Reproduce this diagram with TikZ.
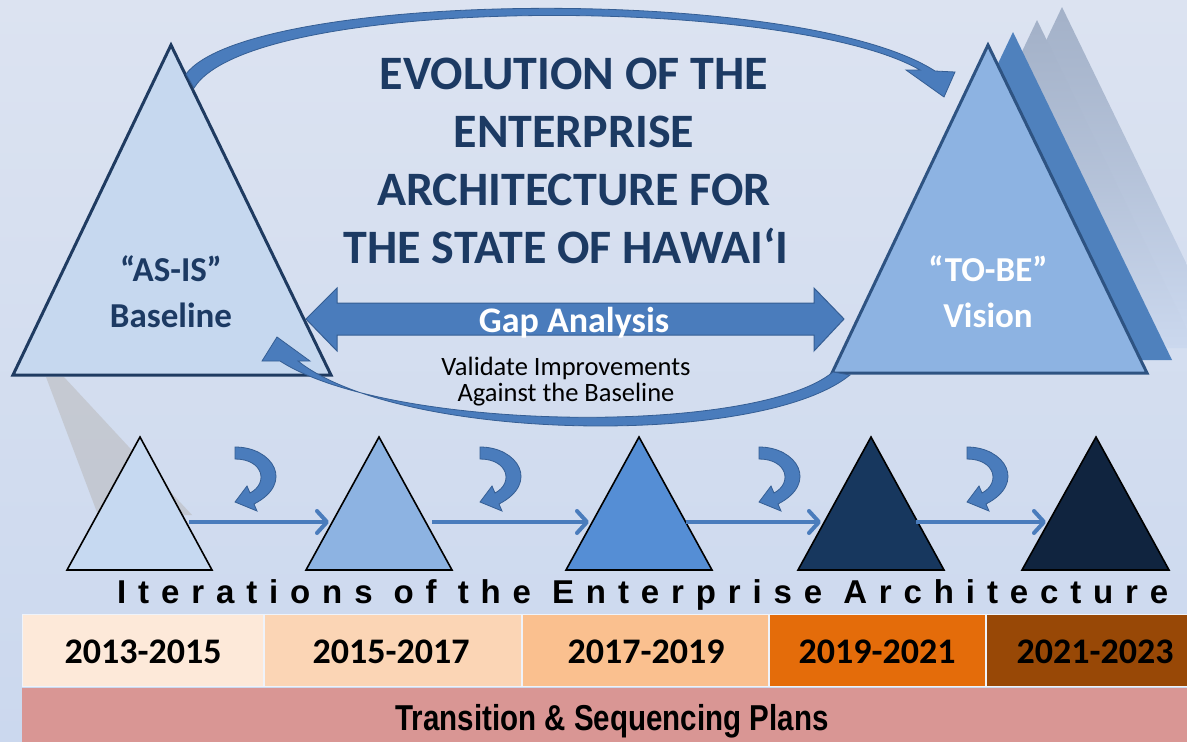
\documentclass[tikz,border=0pt]{standalone}
\usepackage{fontspec}
\setmainfont{Carlito}
\newfontfamily\spacedfont[LetterSpace=36]{Liberation Sans}
\newfontfamily\narrowfont[FakeStretch=0.82]{Liberation Sans}
\usetikzlibrary{arrows.meta}
\definecolor{bgtop}{HTML}{DCE3F1}
\definecolor{bgbot}{HTML}{CBD8EE}
\definecolor{navy}{HTML}{1C3A63}
\definecolor{asisfill}{HTML}{C6D8EF}
\definecolor{asisline}{HTML}{1F3B61}
\definecolor{tobefill}{HTML}{8DB3E2}
\definecolor{tobeline}{HTML}{2E5382}
\definecolor{backblue}{HTML}{4F81BD}
\definecolor{backgray}{HTML}{A3B1C8}
\definecolor{arcblue}{HTML}{4A7CBC}
\definecolor{arcdark}{HTML}{355E94}
\definecolor{tri1}{HTML}{C6D9F1}
\definecolor{tri2}{HTML}{8DB3E2}
\definecolor{tri3}{HTML}{558ED5}
\definecolor{tri4}{HTML}{17375E}
\definecolor{tri5}{HTML}{10243F}
\definecolor{yr1}{HTML}{FDE9D9}
\definecolor{yr2}{HTML}{FBD5B5}
\definecolor{yr3}{HTML}{FAC08F}
\definecolor{yr4}{HTML}{E46C0A}
\definecolor{yr5}{HTML}{984806}
\definecolor{planbar}{HTML}{D99694}
\definecolor{shadowc}{HTML}{B0ACA8}
\tikzset{
  txt/.style={inner sep=0pt, anchor=base},
  titletext/.style={txt, text=navy, font=\fontsize{48}{58}\selectfont\bfseries},
  bigtri/.style={line width=3pt, line join=miter},
  smalltri/.style={draw=black, line width=1.6pt, line join=miter},
  arcarrow/.style={fill=arcblue, draw=arcdark, line width=0.8pt},
  harrow/.style={draw=arcblue, line width=4pt, -{Straight Barb[length=10pt,width=22pt,round]}},
  yeartext/.style={txt, text=black, font=\fontsize{36}{40}\selectfont\bfseries},
  uturn/.pic={
    \filldraw[arcarrow] (0,0) .. controls (38,0) and (60,36) .. (19,57)
      -- (22,64) -- (0,55) -- (12,39) -- (15,46)
      .. controls (34,36) and (28,12) .. (0,12) -- cycle;
  }
}
\begin{document}
\begin{tikzpicture}[x=1pt,y=-1pt]
\useasboundingbox (0,0) rectangle (1187,742);
\shade[top color=bgtop, bottom color=bgbot] (0,0) rectangle (1187,742);

% shadow wedge under the AS-IS triangle
\fill[shadowc, opacity=0.4] (46,377) -- (64,377) -- (192,515) -- (98,515) -- cycle;

% stacked triangles behind TO-BE
\shade[top color=backgray, bottom color=bgbot, middle color=backgray!55!bgbot] (1062,7) -- (906,335) -- (1221,335) -- cycle;
\shade[top color=backgray, bottom color=bgbot, middle color=backgray!55!bgbot] (1037,20) -- (881,348) -- (1196,348) -- cycle;
\fill[backblue] (1013,32) -- (857,360) -- (1172,360) -- cycle;

% TO-BE triangle
\filldraw[bigtri, fill=tobefill, draw=tobeline] (988,45) -- (832,373) -- (1147,373) -- cycle;
\node[txt, text=white, font=\fontsize{35}{40}\selectfont\bfseries] (tobe1) at (988,281) {“TO-BE”};
\node[txt, text=white, font=\fontsize{35}{40}\selectfont\bfseries] (tobe2) at (988,327) {Vision};

% AS-IS triangle
\filldraw[bigtri, fill=asisfill, draw=asisline] (171,45) -- (13,375) -- (331,375) -- cycle;
\node[txt, text=navy, font=\fontsize{35}{40}\selectfont\bfseries] (asis1) at (171,281) {“AS-IS”};
\node[txt, text=navy, font=\fontsize{35}{40}\selectfont\bfseries] (asis2) at (171,327) {Baseline};

% top arc arrow (AS-IS to TO-BE)
\filldraw[arcarrow] (186,74) .. controls (250,-10) and (800,-16) .. (935,71)
  -- (955,72) -- (944,97) -- (906,70) -- (920,70)
  .. controls (790,-5) and (252,-6) .. (194,88) -- cycle;

% bottom arc arrow (TO-BE back to AS-IS)
\filldraw[arcarrow] (850,375) .. controls (760,448) and (400,442) .. (298,361)
  -- (310,361) -- (277,337) -- (262,361) -- (280,361)
  .. controls (390,432) and (755,436) .. (833,372) -- cycle;

% gap analysis double arrow
\filldraw[fill=arcblue, draw=arcdark, line width=1pt]
  (306,319) -- (337,288) -- (337,303) -- (814,303) -- (814,288) -- (844,319)
  -- (814,351) -- (814,335) -- (337,335) -- (337,351) -- cycle;
\node[txt, text=white, font=\fontsize{36}{40}\selectfont\bfseries] (gap) at (574,332) {Gap Analysis};

% title
\node[titletext] (title1) at (574,89) {EVOLUTION OF THE};
\node[titletext] (title2) at (574,147) {ENTERPRISE};
\node[titletext] (title3) at (574,205) {ARCHITECTURE FOR};
\node[titletext] (title4) at (566,263) {THE STATE OF HAWAI`I};

% validate text
\node[txt, text=black, font=\fontsize{26.5}{30}\selectfont] (val1) at (566,375) {Validate Improvements};
\node[txt, text=black, font=\fontsize{26.5}{30}\selectfont] (val2) at (566,401) {Against the Baseline};

% small iteration triangles
\filldraw[smalltri, fill=tri1] (140,437) -- (67,570) -- (212,570) -- cycle;
\filldraw[smalltri, fill=tri2] (379,437) -- (306,570) -- (452,570) -- cycle;
\filldraw[smalltri, fill=tri3] (639,437) -- (566,570) -- (712,570) -- cycle;
\filldraw[smalltri, fill=tri4] (871,437) -- (798,570) -- (944,570) -- cycle;
\filldraw[smalltri, fill=tri5] (1096,437) -- (1022,570) -- (1169,570) -- cycle;

\coordinate (i1out) at (189,522);
\coordinate (i2in) at (329,522);
\coordinate (i2out) at (432,522);
\coordinate (i3in) at (589,522);
\coordinate (i3out) at (686,522);
\coordinate (i4in) at (821,522);
\coordinate (i4out) at (916,522);
\coordinate (i5in) at (1046,522);
\draw[harrow] (i1out) -- (i2in);
\draw[harrow] (i2out) -- (i3in);
\draw[harrow] (i3out) -- (i4in);
\draw[harrow] (i4out) -- (i5in);

% u-turn arrows
\pic at (235,447) {uturn};
\pic at (480,447) {uturn};
\pic at (759,447) {uturn};
\pic at (967,447) {uturn};

% iterations text
\node[inner sep=0pt, anchor=base west, text=black, font=\spacedfont\fontsize{33}{36}\selectfont\bfseries] (iter) at (117,603) {Iterations of the Enterprise Architecture};

% year cells
\fill[white!70!bgbot] (22,614) rectangle (1187,687);
\fill[yr1] (23,615) rectangle (263,686);
\fill[yr2] (265,615) rectangle (521,686);
\fill[yr3] (523,615) rectangle (768,686);
\fill[yr4] (770,615) rectangle (985,686);
\fill[yr5] (987,615) rectangle (1187,686);
\node[yeartext] (y1) at (143,663) {2013-2015};
\node[yeartext] (y2) at (391,663) {2015-2017};
\node[yeartext] (y3) at (646,663) {2017-2019};
\node[yeartext] (y4) at (877,663) {2019-2021};
\node[yeartext] (y5) at (1095,663) {2021-2023};

% plans bar
\fill[planbar] (22,688) rectangle (1187,742);
\node[txt, text=black, font=\narrowfont\fontsize{36}{40}\selectfont\bfseries] (plans) at (612,730) {Transition \& Sequencing Plans};
\end{tikzpicture}
\end{document}
